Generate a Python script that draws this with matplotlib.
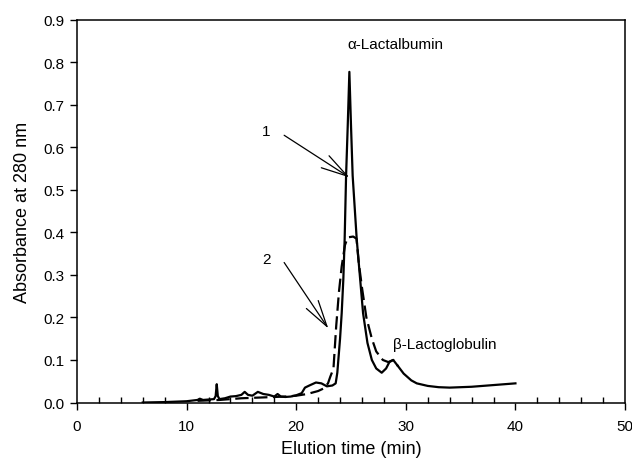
import matplotlib
matplotlib.use("Agg")
import matplotlib.pyplot as plt
from matplotlib.ticker import MultipleLocator

plt.rcParams['font.family'] = ['Liberation Sans', 'DejaVu Sans']

# Curve 1 (solid)
t1 = [6.0, 8.0, 10.0, 11.0, 11.2, 11.5, 12.0, 12.5, 12.65, 12.75, 12.85, 13.0,
      13.5, 14.0, 14.5, 15.0, 15.3, 15.6, 16.0, 16.5, 17.0, 17.5, 18.0, 18.3,
      18.6, 19.0, 19.5, 20.0, 20.5, 20.8, 21.2, 21.8, 22.3, 22.8, 23.3, 23.6,
      23.75, 24.0, 24.15, 24.3, 24.42, 24.55, 24.7, 24.85, 25.0, 25.15, 25.52, 26.1,
      26.5, 26.9, 27.3, 27.8, 28.2, 28.5, 28.85, 29.3, 29.8, 30.5, 31.0, 32.0,
      33.0, 34.0, 35.0, 36.0, 37.0, 38.0, 39.0, 40.0]
a1 = [0.000, 0.001, 0.003, 0.006, 0.009, 0.006, 0.007, 0.008, 0.015, 0.043, 0.015, 0.008,
      0.010, 0.014, 0.015, 0.018, 0.025, 0.018, 0.016, 0.025, 0.020, 0.018, 0.014, 0.020,
      0.014, 0.013, 0.014, 0.017, 0.022, 0.035, 0.040, 0.047, 0.045, 0.038, 0.040, 0.045,
      0.070, 0.150, 0.210, 0.290, 0.384, 0.533, 0.650, 0.777, 0.650, 0.533, 0.384, 0.210,
      0.140, 0.100, 0.080, 0.070, 0.080, 0.095, 0.100, 0.085, 0.068, 0.052, 0.045, 0.039,
      0.036, 0.035, 0.036, 0.037, 0.039, 0.041, 0.043, 0.045]

# Curve 2 (dashed)
t2 = [11.0, 12.0, 13.0, 14.0, 15.0, 16.0, 17.0, 18.0, 19.0, 20.0, 21.0, 22.0,
      22.5, 22.9, 23.1, 23.4, 23.65, 23.9, 24.15, 24.45, 24.7, 25.2, 25.5, 25.7,
      26.0, 26.4, 26.9, 27.3, 27.9, 28.4, 28.85, 29.3]
a2 = [0.004, 0.005, 0.006, 0.008, 0.010, 0.011, 0.012, 0.013, 0.014, 0.016, 0.020, 0.027,
      0.033, 0.045, 0.060, 0.080, 0.180, 0.260, 0.320, 0.370, 0.388, 0.390, 0.385, 0.330,
      0.270, 0.200, 0.150, 0.120, 0.100, 0.095, 0.100, 0.085]

xticks = [0, 10, 20, 30, 40, 50]
yticks = [0.0, 0.1, 0.2, 0.3, 0.4, 0.5, 0.6, 0.7, 0.8, 0.9]

fig = plt.figure(figsize=(6.32, 4.60), dpi=100)
ax = fig.add_axes([0.1218, 0.1228, 0.8672, 0.8326])

ax.plot(t1, a1, color='black', lw=1.6, solid_joinstyle='round')
ax.plot(t2, a2, color='black', lw=1.6, dashes=(6, 2.5))

ax.set_xlim(0, 50)
ax.set_ylim(0, 0.9)
ax.set_xticks(xticks)
ax.set_yticks(yticks)
ax.set_yticklabels([f"{v:.1f}" for v in yticks])
ax.xaxis.set_minor_locator(MultipleLocator(2))
ax.tick_params(axis='x', which='major', direction='out', length=5, width=1, labelsize=11, pad=7)
ax.tick_params(axis='x', which='minor', direction='in', length=4, width=1)
ax.tick_params(axis='y', which='major', direction='out', length=5, width=1, labelsize=11, pad=4)
for s in ax.spines.values():
    s.set_linewidth(1.1)

ax.set_xlabel('Elution time (min)', fontsize=13, labelpad=5)
ax.set_ylabel('Absorbance at 280 nm', fontsize=13, labelpad=9)

ax.text(24.7, 0.842, 'α-Lactalbumin', fontsize=11, va='center', ha='left')
ax.text(28.8, 0.137, 'β-Lactoglobulin', fontsize=11, va='center', ha='left')

ax.text(17.3, 0.639, '1', fontsize=11, ha='center', va='center')
ax.text(17.3, 0.337, '2', fontsize=11, ha='center', va='center')

ap = dict(arrowstyle='->,head_length=1.0,head_width=0.27', lw=0.9, color='black',
          mutation_scale=19, shrinkA=0, shrinkB=0)
ax.annotate('', xy=(24.85, 0.529), xytext=(18.9, 0.628), arrowprops=ap)
ax.annotate('', xy=(22.93, 0.174), xytext=(18.9, 0.329), arrowprops=ap)

fig.savefig('out.png', dpi=100)
